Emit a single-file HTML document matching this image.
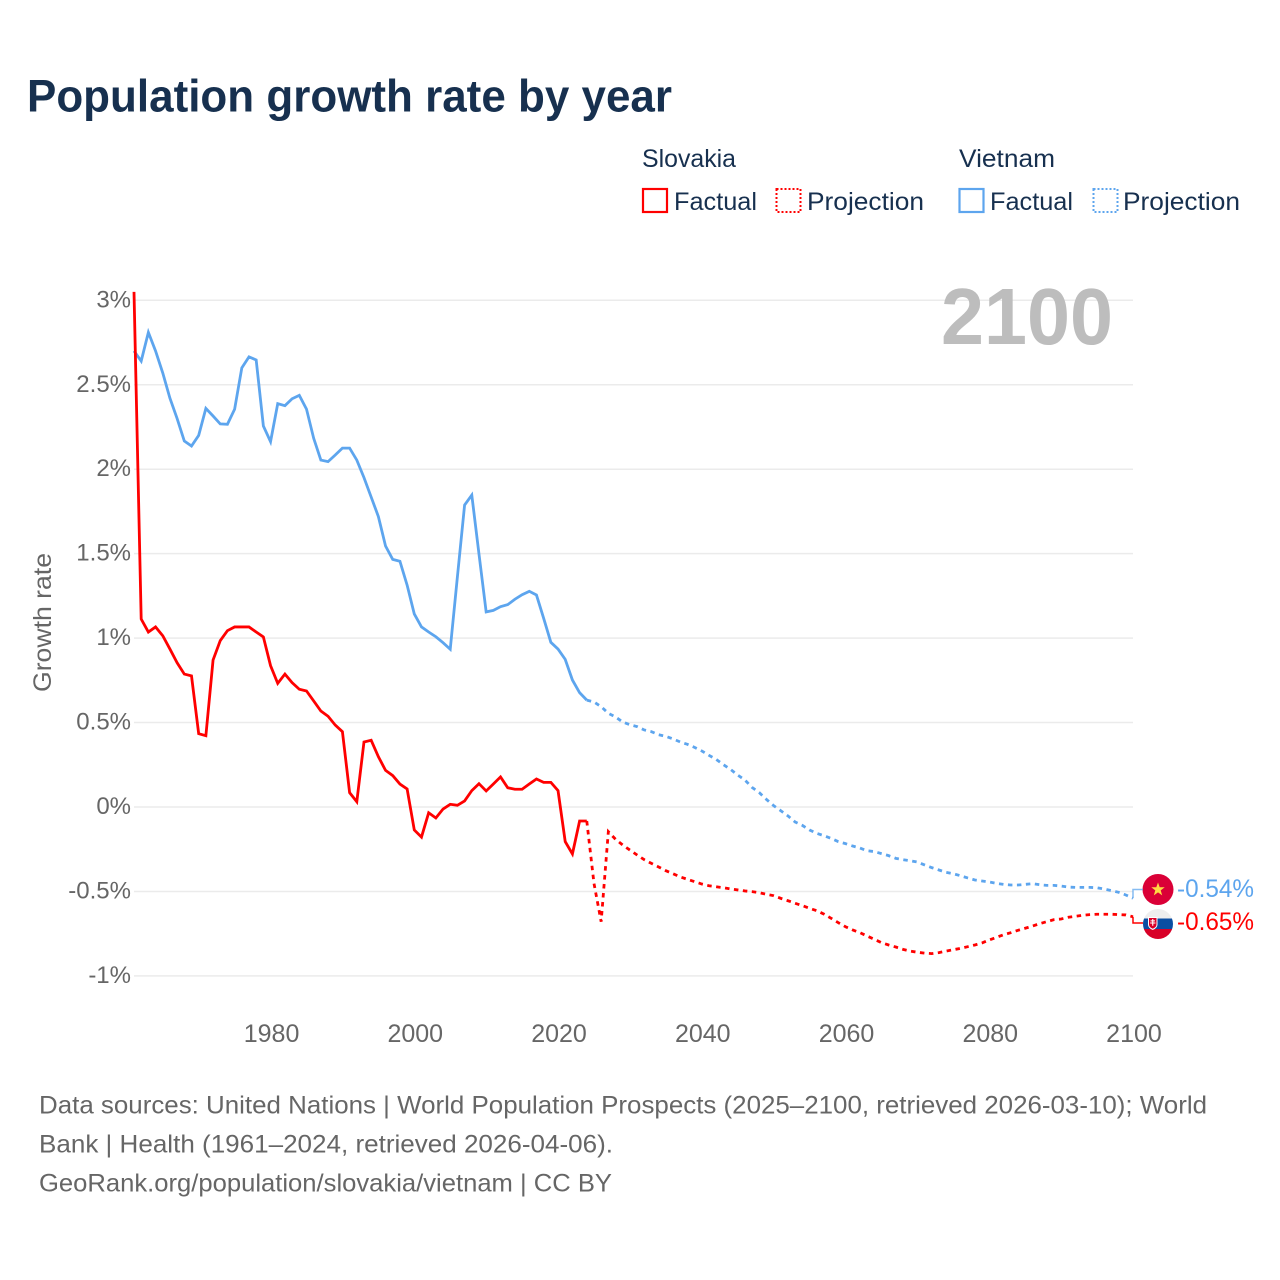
<!DOCTYPE html>
<html lang="en">
<head>
<meta charset="utf-8">
<title>Population growth rate by year</title>
<style>
html,body{margin:0;padding:0;background:#fff;width:1280px;height:1280px;overflow:hidden}
svg{display:block}
text{font-family:"Liberation Sans",sans-serif}
</style>
</head>
<body>
<svg id="chart" xmlns="http://www.w3.org/2000/svg" width="1280" height="1280" viewBox="0 0 1280 1280">
  <rect x="0" y="0" width="1280" height="1280" fill="#ffffff"/>
  <text x="27" y="111.5" font-size="45" font-weight="700" fill="#17304f" textLength="645" lengthAdjust="spacingAndGlyphs">Population growth rate by year</text>

  <g fill="#17304f" font-size="25">
    <text x="642" y="167" textLength="94" lengthAdjust="spacingAndGlyphs">Slovakia</text>
    <text x="959" y="167" textLength="96" lengthAdjust="spacingAndGlyphs">Vietnam</text>
    <rect x="643" y="189" width="24" height="23" fill="none" stroke="#ff0000" stroke-width="2.2"/>
    <text x="674" y="210" textLength="83" lengthAdjust="spacingAndGlyphs">Factual</text>
    <rect x="776.5" y="189" width="24" height="23" fill="none" stroke="#ff0000" stroke-width="2" stroke-dasharray="2 2"/>
    <text x="807" y="210" textLength="117" lengthAdjust="spacingAndGlyphs">Projection</text>
    <rect x="959.5" y="189" width="24" height="23" fill="none" stroke="#5da5ee" stroke-width="2.2"/>
    <text x="990" y="210" textLength="83" lengthAdjust="spacingAndGlyphs">Factual</text>
    <rect x="1093.5" y="189" width="24" height="23" fill="none" stroke="#5da5ee" stroke-width="2" stroke-dasharray="2 2"/>
    <text x="1123" y="210" textLength="117" lengthAdjust="spacingAndGlyphs">Projection</text>
  </g>

  <g id="grid"></g>
  <g id="y-ticks"></g>
  <g id="x-ticks"></g>

  <text x="1113" y="344" text-anchor="end" font-size="80" font-weight="700" fill="#bdbdbd" textLength="172" lengthAdjust="spacingAndGlyphs">2100</text>

  <text transform="translate(51,692) rotate(-90)" x="0" y="0" font-size="25" fill="#666666" textLength="139" lengthAdjust="spacingAndGlyphs">Growth rate</text>

  <g id="series"></g>

  <defs>
    <clipPath id="clip-flag-sk"><circle cx="1158" cy="924" r="15"/></clipPath>
  </defs>
  <g>
    <circle cx="1158" cy="889.5" r="15.5" fill="#da0037"/>
    <polygon points="1158,882.5 1159.7,887.3 1164.7,887.3 1160.7,890.4 1162.2,895.4 1158,892.4 1153.8,895.4 1155.3,890.4 1151.3,887.3 1156.3,887.3" fill="#ffda44"/>
  </g>
  <g clip-path="url(#clip-flag-sk)">
    <rect x="1143" y="909" width="30" height="9.5" fill="#eeeeee"/>
    <rect x="1143" y="918.5" width="30" height="10.5" fill="#0b4ea2"/>
    <rect x="1143" y="929" width="30" height="10" fill="#d80027"/>
    <path d="M1148 917h9.5v7.5q0 3.5-4.75 5.5q-4.75-2-4.75-5.5z" fill="#ffffff"/>
    <path d="M1149 918h7.5v6.5q0 2.7-3.75 4.2q-3.75-1.5-3.75-4.2z" fill="#d80027"/>
    <path d="M1152.2 919h1.1v1.4h1.7v1h-1.7v1.1h2.1v1h-2.1v2.2h-1.1v-2.2h-2.1v-1h2.1v-1.1h-1.7v-1h1.7z" fill="#ffffff"/>
  </g>

  <g id="end-labels"></g>

  <g fill="#666666" font-size="25">
    <text x="39" y="1113.5" textLength="1168" lengthAdjust="spacingAndGlyphs">Data sources: United Nations | World Population Prospects (2025–2100, retrieved 2026-03-10); World</text>
    <text x="39" y="1152.5" textLength="574" lengthAdjust="spacingAndGlyphs">Bank | Health (1961–2024, retrieved 2026-04-06).</text>
    <text x="39" y="1191.5" textLength="573" lengthAdjust="spacingAndGlyphs">GeoRank.org/population/slovakia/vietnam | CC BY</text>
  </g>
</svg>

<script>
// Chart data ---------------------------------------------------------------
const yTickValues = [3, 2.5, 2, 1.5, 1, 0.5, 0, -0.5, -1];
const yTickLabels = ['3%', '2.5%', '2%', '1.5%', '1%', '0.5%', '0%', '-0.5%', '-1%'];
const xTickValues = [1980, 2000, 2020, 2040, 2060, 2080, 2100];
const xTickLabels = ['1980', '2000', '2020', '2040', '2060', '2080', '2100'];

const factualStartYear = 1961;
const projectionStartYear = 2024;

// Slovakia, 1961-2024
const slovakiaFactual = [3.05, 1.113, 1.036, 1.066, 1.014, 0.935, 0.854, 0.787, 0.776, 0.434,
  0.422, 0.870, 0.985, 1.044, 1.066, 1.066, 1.066, 1.036, 1.007, 0.837,
  0.732, 0.787, 0.736, 0.697, 0.687, 0.628, 0.568, 0.537, 0.485, 0.446,
  0.085, 0.031, 0.385, 0.395, 0.298, 0.217, 0.186, 0.136, 0.107, -0.136,
  -0.178, -0.034, -0.065, -0.012, 0.016, 0.010, 0.036, 0.097, 0.138, 0.095,
  0.136, 0.178, 0.114, 0.105, 0.105, 0.136, 0.166, 0.146, 0.146, 0.097,
  -0.205, -0.278, -0.083, -0.083];

// Slovakia, 2024-2100
const slovakiaProjection = [-0.083, -0.452, -0.679, -0.146, -0.191, -0.225, -0.255, -0.284, -0.312, -0.334,
  -0.355, -0.377, -0.395, -0.414, -0.428, -0.442, -0.456, -0.466, -0.472, -0.478,
  -0.485, -0.491, -0.497, -0.501, -0.507, -0.517, -0.525, -0.541, -0.555, -0.570,
  -0.584, -0.600, -0.614, -0.634, -0.659, -0.685, -0.709, -0.728, -0.744, -0.764,
  -0.783, -0.803, -0.817, -0.829, -0.843, -0.853, -0.860, -0.865, -0.868, -0.862,
  -0.853, -0.845, -0.837, -0.827, -0.817, -0.805, -0.787, -0.772, -0.756, -0.744,
  -0.730, -0.718, -0.705, -0.691, -0.679, -0.667, -0.663, -0.653, -0.647, -0.641,
  -0.637, -0.635, -0.635, -0.635, -0.637, -0.639, -0.650];

// Vietnam, 1961-2024
const vietnamFactual = [2.70, 2.64, 2.81, 2.70, 2.57, 2.42, 2.30, 2.167, 2.137, 2.20,
  2.36, 2.315, 2.268, 2.266, 2.355, 2.60, 2.665, 2.647, 2.256, 2.163,
  2.388, 2.376, 2.417, 2.437, 2.356, 2.183, 2.054, 2.045, 2.084, 2.125,
  2.125, 2.054, 1.95, 1.835, 1.72, 1.545, 1.466, 1.455, 1.314, 1.143,
  1.066, 1.036, 1.008, 0.973, 0.934, 1.364, 1.788, 1.847, 1.498, 1.155,
  1.164, 1.186, 1.198, 1.23, 1.257, 1.277, 1.255, 1.117, 0.975, 0.935,
  0.874, 0.752, 0.677, 0.633];

// Vietnam, 2024-2100
const vietnamProjection = [0.633, 0.622, 0.594, 0.555, 0.533, 0.503, 0.487, 0.476, 0.456, 0.446,
  0.428, 0.418, 0.403, 0.385, 0.371, 0.353, 0.332, 0.306, 0.282, 0.251,
  0.223, 0.189, 0.160, 0.116, 0.085, 0.045, 0.008, -0.022, -0.053, -0.089,
  -0.109, -0.136, -0.156, -0.170, -0.186, -0.205, -0.217, -0.231, -0.243, -0.259,
  -0.264, -0.276, -0.288, -0.304, -0.312, -0.318, -0.326, -0.343, -0.359, -0.373,
  -0.387, -0.395, -0.407, -0.420, -0.432, -0.438, -0.444, -0.452, -0.458, -0.462,
  -0.462, -0.458, -0.454, -0.460, -0.464, -0.464, -0.468, -0.474, -0.476, -0.476,
  -0.476, -0.478, -0.486, -0.495, -0.505, -0.521, -0.540];

const endValueLabels = ['-0.54%', '-0.65%'];

// Axis functions -----------------------------------------------------------
const SVG_NS = 'http://www.w3.org/2000/svg';
const xOfYear = function (year) { return 134 + (year - 1961) * 7.187; };
const yOfValue = function (value) { return 807 - value * 168.9; };

function linePath(values, startYear) {
  return values.map(function (v, i) {
    return (i === 0 ? 'M' : 'L') + xOfYear(startYear + i).toFixed(2) + ' ' + yOfValue(v).toFixed(2);
  }).join(' ');
}

const gridLayer = document.getElementById('grid');
const yTickLayer = document.getElementById('y-ticks');
const xTickLayer = document.getElementById('x-ticks');
const seriesLayer = document.getElementById('series');
const endLayer = document.getElementById('end-labels');

yTickValues.forEach(function (value, i) {
  const line = document.createElementNS(SVG_NS, 'line');
  
  
  line.setAttribute('x1', 134);
  line.setAttribute('x2', 1133);
  line.setAttribute('y1', yOfValue(value));
  line.setAttribute('y2', yOfValue(value));
  line.setAttribute('stroke', '#ebebeb');
  line.setAttribute('stroke-width', 1.5);
  gridLayer.appendChild(line);

  const label = document.createElementNS(SVG_NS, 'text');
  
  
  label.setAttribute('x', 131);
  label.setAttribute('y', yOfValue(value) + 7);
  label.setAttribute('text-anchor', 'end');
  label.setAttribute('font-size', 24);
  label.setAttribute('fill', '#666666');
  label.textContent = yTickLabels[i];
  yTickLayer.appendChild(label);
});

xTickValues.forEach(function (value, i) {
  const label = document.createElementNS(SVG_NS, 'text');
  
  
  label.setAttribute('x', xOfYear(value) + 1);
  label.setAttribute('y', 1042);
  label.setAttribute('text-anchor', 'middle');
  label.setAttribute('font-size', 25);
  label.setAttribute('fill', '#666666');
  label.textContent = xTickLabels[i];
  xTickLayer.appendChild(label);
});

// Series lines
const vietnamFactualLine = document.createElementNS(SVG_NS, 'path');


vietnamFactualLine.setAttribute('d', linePath(vietnamFactual, factualStartYear));
vietnamFactualLine.setAttribute('fill', 'none');
vietnamFactualLine.setAttribute('stroke', '#5da5ee');
vietnamFactualLine.setAttribute('stroke-width', 2.8);
seriesLayer.appendChild(vietnamFactualLine);

const vietnamProjectionLine = document.createElementNS(SVG_NS, 'path');


vietnamProjectionLine.setAttribute('d', linePath(vietnamProjection, projectionStartYear));
vietnamProjectionLine.setAttribute('fill', 'none');
vietnamProjectionLine.setAttribute('stroke', '#5da5ee');
vietnamProjectionLine.setAttribute('stroke-width', 2.8);
vietnamProjectionLine.setAttribute('stroke-dasharray', '4.5 4.5');
seriesLayer.appendChild(vietnamProjectionLine);

const slovakiaFactualLine = document.createElementNS(SVG_NS, 'path');


slovakiaFactualLine.setAttribute('d', linePath(slovakiaFactual, factualStartYear));
slovakiaFactualLine.setAttribute('fill', 'none');
slovakiaFactualLine.setAttribute('stroke', '#ff0000');
slovakiaFactualLine.setAttribute('stroke-width', 2.8);
seriesLayer.appendChild(slovakiaFactualLine);

const slovakiaProjectionLine = document.createElementNS(SVG_NS, 'path');


slovakiaProjectionLine.setAttribute('d', linePath(slovakiaProjection, projectionStartYear));
slovakiaProjectionLine.setAttribute('fill', 'none');
slovakiaProjectionLine.setAttribute('stroke', '#ff0000');
slovakiaProjectionLine.setAttribute('stroke-width', 2.8);
slovakiaProjectionLine.setAttribute('stroke-dasharray', '4.5 4.5');
seriesLayer.appendChild(slovakiaProjectionLine);

// End connectors and value labels
const vietnamEndValue = vietnamProjection[vietnamProjection.length - 1];
const slovakiaEndValue = slovakiaProjection[slovakiaProjection.length - 1];

const vietnamConnector = document.createElementNS(SVG_NS, 'path');


vietnamConnector.setAttribute('d', 'M' + xOfYear(2100) + ' ' + yOfValue(vietnamEndValue) + ' V889.5 H1143');
vietnamConnector.setAttribute('fill', 'none');
vietnamConnector.setAttribute('stroke', '#5da5ee');
vietnamConnector.setAttribute('stroke-opacity', 0.75);
vietnamConnector.setAttribute('stroke-width', 1.5);
endLayer.appendChild(vietnamConnector);

const slovakiaConnector = document.createElementNS(SVG_NS, 'path');


slovakiaConnector.setAttribute('d', 'M' + xOfYear(2100) + ' ' + yOfValue(slovakiaEndValue) + ' V923 H1143');
slovakiaConnector.setAttribute('fill', 'none');
slovakiaConnector.setAttribute('stroke', '#ff0000');
slovakiaConnector.setAttribute('stroke-width', 1.5);
endLayer.appendChild(slovakiaConnector);

const vietnamEndLabel = document.createElementNS(SVG_NS, 'text');


vietnamEndLabel.setAttribute('x', 1177);
vietnamEndLabel.setAttribute('y', 897);
vietnamEndLabel.setAttribute('font-size', 25);
vietnamEndLabel.setAttribute('fill', '#5da5ee');
vietnamEndLabel.setAttribute('textLength', 77);
vietnamEndLabel.setAttribute('lengthAdjust', 'spacingAndGlyphs');
vietnamEndLabel.textContent = endValueLabels[0];
endLayer.appendChild(vietnamEndLabel);

const slovakiaEndLabel = document.createElementNS(SVG_NS, 'text');


slovakiaEndLabel.setAttribute('x', 1177);
slovakiaEndLabel.setAttribute('y', 930);
slovakiaEndLabel.setAttribute('font-size', 25);
slovakiaEndLabel.setAttribute('fill', '#ff0000');
slovakiaEndLabel.setAttribute('textLength', 77);
slovakiaEndLabel.setAttribute('lengthAdjust', 'spacingAndGlyphs');
slovakiaEndLabel.textContent = endValueLabels[1];
endLayer.appendChild(slovakiaEndLabel);
</script>
</body>
</html>
